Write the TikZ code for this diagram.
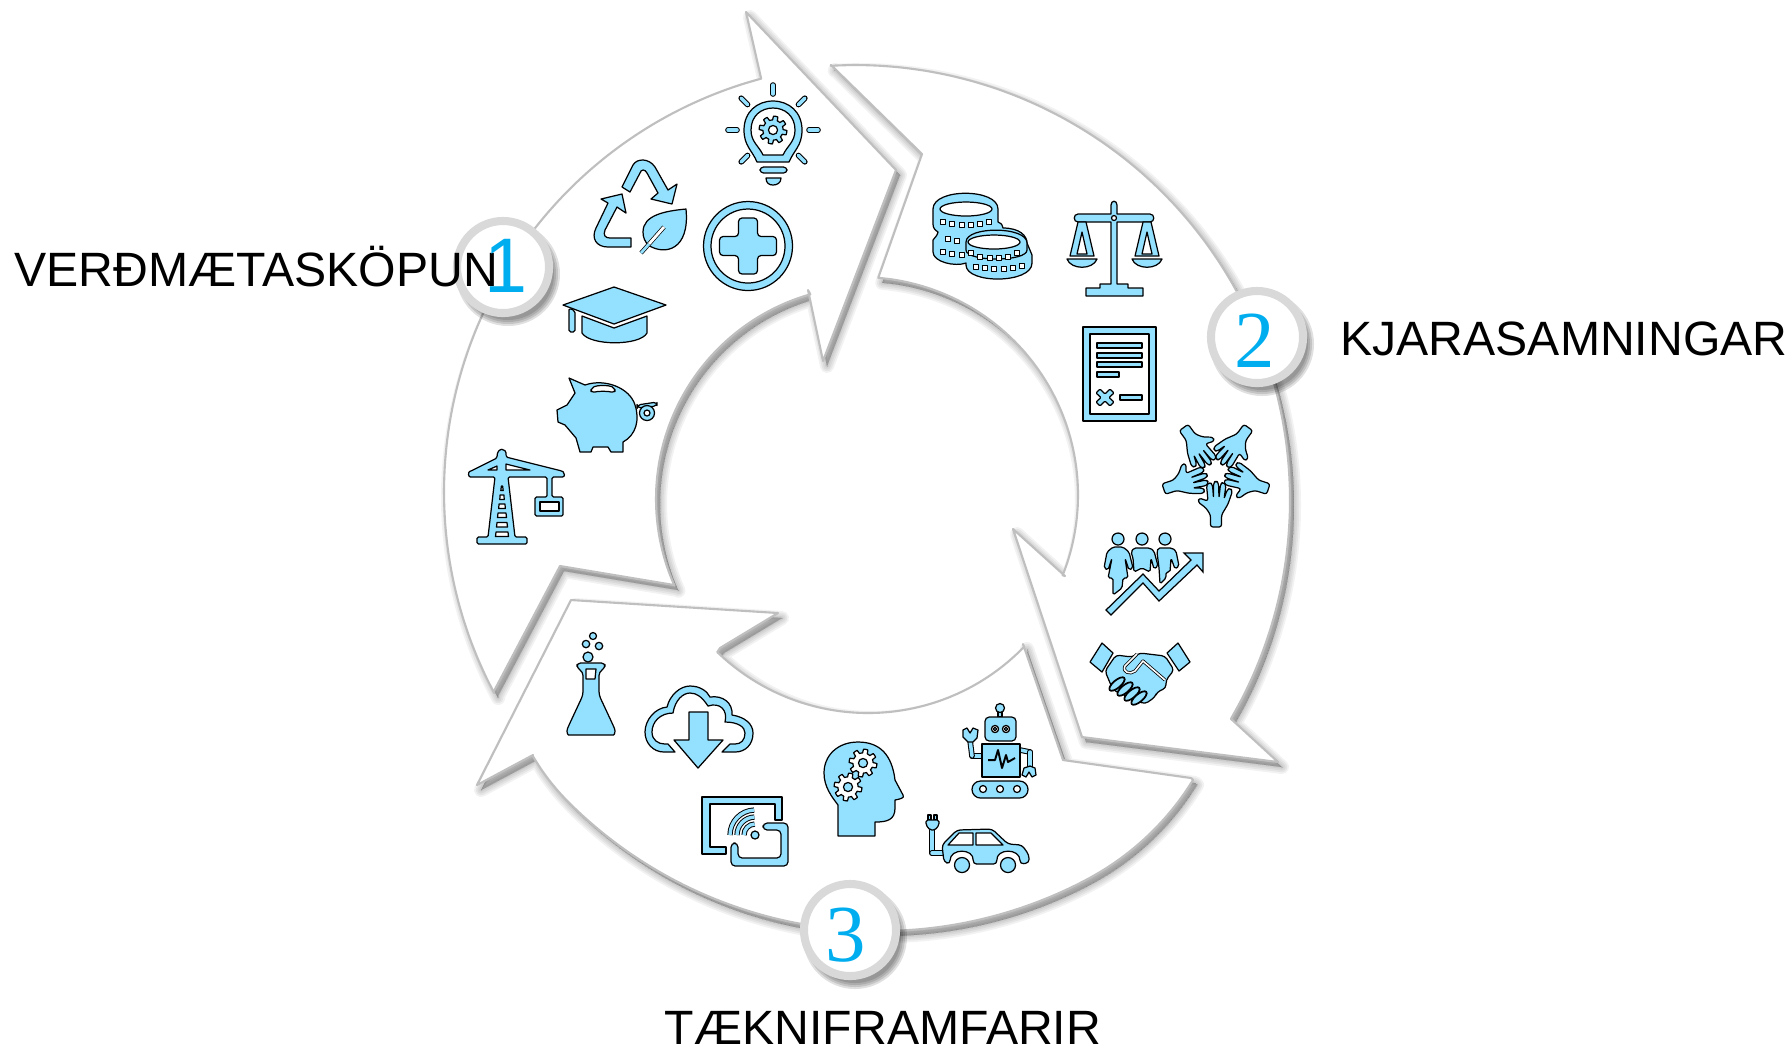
\documentclass[tikz,border=0pt]{standalone}
\usepackage{fontspec}
\setmainfont{Liberation Sans}
\newfontfamily\digitfont{Liberation Serif}
\definecolor{iconblue}{HTML}{93E1FF}
\definecolor{ringgray}{HTML}{D9D9D9}
\definecolor{edgegray}{HTML}{BFBFBF}
\definecolor{digitblue}{HTML}{00AEEF}
\tikzstyle{icon} = [fill=iconblue, draw=black, line width=.35pt, line join=round]
\tikzstyle{hole} = [fill=white, draw=black, line width=.35pt, line join=round]
\tikzstyle{blade} = [fill=white, draw=edgegray, line width=.6pt, line join=round]
\tikzstyle{stickout} = [draw=black, line width=1.6pt, line cap=round]
\tikzstyle{stickin} = [draw=iconblue, line width=1pt, line cap=round]
\tikzstyle{badge} = [circle, minimum size=.92cm, inner sep=0pt, draw=ringgray, line width=2.3pt, fill=white]
\tikzstyle{title} = [inner sep=0pt, font=\fontsize{13.7pt}{16pt}\selectfont, text=black]
\tikzstyle{digit} = [inner sep=0pt, font=\fontsize{22pt}{24pt}\selectfont, text=digitblue]
\tikzstyle{serifdigit} = [inner sep=0pt, font=\digitfont\fontsize{23pt}{24pt}\selectfont, text=digitblue]

\newcommand{\bladeone}{(761,78) -- plot[domain=255:152, samples=40, smooth] ({872+428*cos(\x)}, {492+428*sin(\x)}) -- (494,691) -- (560,566) -- (674,585) -- plot[domain=156:254, samples=30, smooth] ({869+213*cos(\x)}, {499+213*sin(\x)}) -- (808,290) -- (823,361) -- (896,170) -- (746,12) -- cycle}
\newcommand{\bladetwo}{(831,65) -- plot[domain=-93.2:30.2, samples=40, smooth] ({855+435*cos(\x)}, {500+435*sin(\x)}) -- (1278,762) -- (1082,737) -- (1013,529) -- (1065,576) -- plot[domain=21.6:-85.2, samples=30, smooth] ({860+218*cos(\x)}, {495+218*sin(\x)}) -- (922,154) -- cycle}
\newcommand{\bladethree}{(1191,778) -- plot[domain=42.8:142.6, samples=50, smooth] ({880+(441-14*max(0,(62-\x)/19)^2-4*max(0,(\x-135)/8)^2)*cos(\x)}, {490+(441-14*max(0,(62-\x)/19)^2-4*max(0,(\x-135)/8)^2)*sin(\x)}) -- (533,755) -- (477,785) -- (571,600) -- (778,613) -- (720,648) -- plot[domain=134:44, samples=30, smooth] ({868+217*cos(\x)}, {496+217*sin(\x)}) -- (1023,644) -- (1063,760) -- cycle}
\newcommand{\softshade}[1]{
  \foreach \w in {0,2,4,6,8} {
    \fill[black, opacity=.05, shift={(4,5)}] #1;
    \draw[black, opacity=.05, line join=round, line width=\w pt*.5, shift={(4,5)}] #1;
  }
}
\newcommand{\stick}[2]{
  \draw[stickout] #1 -- #2;
  \draw[stickin] #1 -- #2;
}
\newcommand{\gearicon}[5]{
  \draw[#4] plot[domain=0:360, samples=145, smooth] ({#1+#3*(1+.16*max(-1,min(1,3*sin(8*\x)))*1)*cos(\x)}, {#2+#3*(1+.16*max(-1,min(1,3*sin(8*\x))))*sin(\x)}) -- cycle;
  \draw[#5] (#1,#2) circle[radius=#3*.38];
}

\begin{document}
\begin{tikzpicture}[x=0.01cm, y=-0.01cm]

  \useasboundingbox (0,0) rectangle (1792,1050);
  \fill[white] (0,0) rectangle (1792,1050);

  % Blades
  \softshade{\bladethree}
  \draw[blade] \bladethree;
  \softshade{\bladetwo}
  \draw[blade] \bladetwo;
  \softshade{\bladeone}
  \draw[blade] \bladeone;

  % Bulb
  \draw[icon, even odd rule] (757,162) .. controls (752,150) and (744,146) .. (744,130) .. controls (744,112) and (757,101) .. (773,101) .. controls (789,101) and (802,112) .. (802,130) .. controls (802,146) and (794,150) .. (789,162) -- cycle
    (763,155) .. controls (759,146) and (751,142) .. (751,130) .. controls (751,116) and (761,108) .. (773,108) .. controls (785,108) and (795,116) .. (795,130) .. controls (795,142) and (787,146) .. (783,155) -- cycle;
  \gearicon{773}{130}{12}{icon}{hole}
  \begin{scope}[shift={(773,130)}]
    \foreach \a in {0,45,135,180,225,270,315} {
      \stick{(\a:36)}{(\a:45)}
    }
  \end{scope}
  \draw[icon, rounded corners=1pt] (760,167) rectangle (787,173);
  \draw[icon] (766,178) -- (781,178) .. controls (781,183) and (777,185) .. (773,185) .. controls (769,185) and (766,183) .. (766,178) -- cycle;

  % Recycle
  \draw[icon] (622,187) -- (633,165) .. controls (637,158) and (649,158) .. (655,167) -- (668,190) -- (677,184) -- (672,204) -- (651,199) -- (658,193) -- (647,173) .. controls (645,169) and (641,169) .. (640,173) -- (630,192) -- cycle;
  \draw[icon] (631,247) -- (608,247) .. controls (596,247) and (591,238) .. (596,228) -- (608,203) -- (601,199) -- (622,194) -- (626,213) -- (617,207) -- (605,230) .. controls (603,235) and (605,238) .. (610,238) -- (631,238) -- cycle;
  \draw[icon] (686,209) .. controls (665,211) and (643,215) .. (643,232) .. controls (643,238) and (645,241) .. (648,245) .. controls (665,256) and (690,250) .. (686,209) -- cycle;
  \draw[line width=1.2pt, black] (664,227) -- (641,253);
  \draw[line width=.8pt, white] (664,227) -- (649,244);
  \draw[line width=.8pt, iconblue] (649,244) -- (641,253);

  % Cross
  \draw[icon, even odd rule] (748,246) circle[radius=44.5] (748,246) circle[radius=37];
  \draw[icon, rounded corners=1pt] (738.5,218) -- (757.5,218) -- (757.5,236.5) -- (776.5,236.5) -- (776.5,255.5) -- (757.5,255.5) -- (757.5,274) -- (738.5,274) -- (738.5,255.5) -- (719.5,255.5) -- (719.5,236.5) -- (738.5,236.5) -- cycle;

  % Cap
  \draw[icon] (614,287) -- (666,305) -- (614,324) -- (563,305) -- cycle;
  \draw[icon] (582,316) -- (614,328) -- (647,316) -- (647,333) .. controls (640,346) and (590,346) .. (582,333) -- cycle;
  \draw[icon, rounded corners=.5pt] (569,308) -- (569,332) -- (575,332) -- (575,311) -- cycle;

  % Piggy
  \draw[icon, rounded corners=1pt] (637,405) -- (657,402) -- (657,406) -- (637,408) -- cycle;
  \draw[icon, even odd rule] (647,413) circle[radius=7.5] (647,413) circle[radius=3];
  \draw[icon] (569,378) -- (585,385) .. controls (605,378) and (630,388) .. (635,405) .. controls (640,420) and (636,435) .. (623,442) -- (623,452) -- (611,452) -- (608,447) -- (593,447) -- (591,452) -- (580,452) -- (576,438) -- (565,425) -- (558,422) -- (557,410) -- (567,405) -- (575,393) -- cycle;
  \draw[hole, rounded corners=1pt] (591,388) .. controls (598,385) and (608,385) .. (615,388) -- (615,393) .. controls (608,391) and (598,391) .. (591,393) -- cycle;

  % Crane
  \draw[icon, rounded corners=.4pt] (497,458) .. controls (497,447) and (507,447) .. (506,457) -- (562,471) .. controls (565,473) and (565,477) .. (561,477) -- (552,477) -- (552,497) -- (563,497) -- (563,516) -- (535,516) -- (535,497) -- (547,497) -- (547,477) -- (508,477) -- (515,537) -- (527,537) -- (527,544) -- (477,544) -- (477,537) -- (488,537) -- (495,477) -- (472,477) .. controls (468,477) and (468,472) .. (471,471) -- cycle;
  \draw[hole] (540,502) rectangle (559,511);
  \draw[hole] (488,470) -- (497,466) -- (497,470) -- cycle;
  \draw[hole] (506,464) -- (530,470) -- (506,470) -- cycle;
  \foreach \y/\a/\b in {532/6/6.5, 522.5/5/5.5, 513/4/4.5, 504/3/3.3, 495/2/2.2, 486/.6/1.2} {
    \draw[hole] ({502-\a},\y) -- ({502+\a},\y) -- ({502+\b},\y+4.5) -- ({502-\b},\y+4.5) -- cycle;
  }

  % Coins
  \draw[icon] (933,209) .. controls (933,188) and (998,188) .. (998,209) -- (998,222) .. controls (1003,224) and (1002,226) .. (1003,228) .. controls (1020,228) and (1027,236) .. (1027,243) -- (1032,255) -- (1032,263) .. controls (1032,284) and (966,284) .. (966,265) -- (966,263) .. controls (955,267) and (933,262) .. (933,252) -- (933,240) .. controls (936,236) and (937,236) .. (938,232) .. controls (935,230) and (933,228) .. (933,224) -- cycle;
  \draw[hole] (966,209) ellipse[x radius=26, y radius=7];
  \draw[icon] (966,242) .. controls (966,226) and (1027,226) .. (1027,243) -- (1027,250) .. controls (1027,262) and (966,262) .. (966,250) -- cycle;
  \draw[hole] (994,242) ellipse[x radius=26, y radius=7];
  \foreach \x/\y in {943/222, 952/224, 962/225, 971/225, 980/224, 989/222, 948/239, 957/241, 943/252, 952/254, 962/255, 971/253, 980/257, 990/258, 999/258, 1008/257, 1017/253, 976/267, 985/268, 994/269, 1004/269, 1013/268, 1022/266} {
    \draw[hole] ({\x-2.3},{\y-2.3}) rectangle ({\x+2.3},{\y+2.3});
  }

  % Scales
  \draw[icon] (1086,296) -- (1086,288) -- (1100,288) -- (1100,284) -- (1111,284) -- (1111,222) -- (1078,222) .. controls (1073,222) and (1073,214) .. (1078,214) -- (1111,214) -- (1111,205) .. controls (1111,200) and (1117,200) .. (1117,205) -- (1117,214) -- (1150,214) .. controls (1155,214) and (1155,222) .. (1150,222) -- (1117,222) -- (1117,284) -- (1128,284) -- (1128,288) -- (1143,288) -- (1143,296) -- cycle;
  \draw[hole] (1114,218) circle[radius=2.5];
  \foreach \c in {1082,1147} {
    \draw[icon, even odd rule] ({\c-4},222) -- ({\c+4},222) -- ({\c+12},256) -- ({\c-12},256) -- cycle ({\c},232) -- ({\c+5},254) -- ({\c-5},254) -- cycle;
    \draw[icon] ({\c-15},259) -- ({\c+15},259) .. controls ({\c+11},270) and ({\c-11},270) .. ({\c-15},259) -- cycle;
  }

  % Document
  \draw[icon, even odd rule] (1083,327) rectangle (1156,421) (1090,334) rectangle (1149,414);
  \foreach \y in {343,353,362} {
    \draw[icon] (1097,\y) rectangle (1142,\y+5);
  }
  \draw[icon] (1097,372) rectangle (1119,377);
  \draw[icon] (1120,395) rectangle (1142,400);
  \draw[icon, rounded corners=.3pt] (1100,389) -- (1105,394) -- (1110,389) -- (1114,393) -- (1109,397.5) -- (1114,402) -- (1110,406) -- (1105,401) -- (1100,406) -- (1096,402) -- (1101,397.5) -- (1096,393) -- cycle;

  % Hands
  \foreach \a in {0,72,...,288} {
    \begin{scope}[shift={(1216,472)}, rotate=\a]
      \draw[icon, rounded corners=.7pt] (-5.5,55) -- (-5.5,43) -- (-10,36) -- (-18,30) -- (-17,26) -- (-8,29) -- (-9.5,13) -- (-6,10) -- (-3.5,13) -- (-2.5,26) -- (-2.5,11) -- (0,8.5) -- (2.5,11) -- (3,26) -- (4.5,12) -- (7,10) -- (10,13) -- (8,27) -- (11,18) -- (14,16) -- (16.5,19) -- (12,32) -- (5.5,43) -- (5.5,55) -- cycle;
    \end{scope}
  }

  % People and trend
  \foreach \x in {1118,1142,1165} {
    \draw[icon] (\x,539) circle[radius=6];
  }
  \draw[icon, rounded corners=.5pt] (1113,547) -- (1123,547) -- (1129,552) -- (1133,568) -- (1129,570) -- (1125,558) -- (1128,578) -- (1123,578) -- (1122,588) -- (1113,595) -- (1113,578) -- (1108,578) -- (1112,558) -- (1108,570) -- (1104,568) -- (1107,552) -- cycle;
  \draw[icon, rounded corners=.5pt] (1134,548) -- (1150,548) -- (1154,551) -- (1158,566) -- (1154,569) -- (1151,558) -- (1150,572) -- (1142,568) -- (1134,572) -- (1133,558) -- (1131,552) -- cycle;
  \draw[icon, rounded corners=.5pt] (1158,548) -- (1172,548) -- (1176,551) -- (1179,566) -- (1175,569) -- (1171,558) -- (1170,572) -- (1166,572) -- (1166,578) -- (1160,584) -- (1159,568) -- (1157,552) -- cycle;
  \draw[white, line width=1.2pt] (1106,610) -- (1143,574) -- (1159,591) -- (1191,560);
  \draw[icon, line join=miter] (1106,610) -- (1143,574) -- (1159,591) -- (1191,560) -- (1184,553) -- (1203,553) -- (1203,572) -- (1197,565) -- (1159,601) -- (1143,583) -- (1111,615) -- cycle;

  % Handshake
  \draw[icon] (1102,643) -- (1113,653) -- (1102,672) -- (1090,662) -- cycle;
  \draw[icon] (1178,643) -- (1190,662) -- (1179,671) -- (1167,653) -- cycle;
  \draw[icon, rounded corners=1pt] (1116,655) -- (1132,657) -- (1140,653) -- (1165,656) -- (1174,670) -- (1166,680) -- (1166,688) -- (1157,692) -- (1155,697) -- (1145,704) -- (1135,700) -- (1113,690) -- (1105,671) -- cycle;
  \draw[black, line width=.9pt, line join=round] (1165,680) -- (1143,661) -- (1135,671) .. controls (1130,675) and (1122,672) .. (1125,666) -- (1137,654);
  \draw[white, line width=.45pt, line join=round] (1165,680) -- (1143,661) -- (1135,671) .. controls (1130,675) and (1122,672) .. (1125,666) -- (1137,654);
  \foreach \x/\y in {1117/684, 1125/689, 1132/694, 1139/698} {
    \draw[icon, rotate around={40:(\x,\y)}, line width=.5pt] (\x,\y) ellipse[x radius=9.5, y radius=3.8];
  }

  % Flask
  \draw[icon, rounded corners=1pt] (577,663) -- (605,663) -- (605,668) -- (599,672) -- (599,695) -- (613,725) .. controls (616,732) and (614,735) .. (610,735) -- (572,735) .. controls (568,735) and (566,732) .. (569,725) -- (583,695) -- (583,672) -- (577,668) -- cycle;
  \draw[hole] (586,669) -- (596,669) -- (595,679) -- (586,679) -- cycle;
  \foreach \x/\y/\r in {588/657/5, 586/644/3.7, 599/646/3.7, 593/636/3.5} {
    \draw[icon] (\x,\y) circle[radius=\r];
  }

  % Cloud
  \draw[icon] (675,752) -- (664,752) .. controls (653,752) and (645,743) .. (645,732) .. controls (645,720) and (655,708) .. (667,707) .. controls (670,695) and (680,686) .. (690,686) .. controls (700,686) and (707,691) .. (710,697) .. controls (723,695) and (733,703) .. (732,715) .. controls (745,717) and (753,724) .. (753,733) .. controls (753,745) and (745,752) .. (735,752) -- (722,752) -- (730,744) -- (735,744) .. controls (741,744) and (745,740) .. (745,733) .. controls (745,727) and (738,722) .. (725,722) .. controls (728,710) and (720,702) .. (708,706) .. controls (702,697) and (697,693) .. (690,693) .. controls (683,693) and (675,700) .. (673,713) .. controls (660,713) and (652,722) .. (652,732) .. controls (652,740) and (658,744) .. (665,744) -- (668,744) -- cycle;
  \draw[icon] (689,712) -- (708,712) -- (708,740) -- (723,740) -- (698,768) -- (674,740) -- (689,740) -- cycle;

  % Screen
  \draw[icon] (702,797) -- (782,797) -- (782,820) -- (775,820) -- (775,804) -- (710,804) -- (710,847) -- (726,847) -- (726,854) -- (702,854) -- cycle;
  \draw[icon, rounded corners=1.2pt] (763,823) -- (788,823) -- (788,866) -- (731,866) -- (731,843) -- (738,843) -- (738,858) -- (781,858) -- (781,830) -- (763,830) -- cycle;
  \draw[icon] (755,835) circle[radius=4];
  \foreach \r in {11,18,25} {
    \draw[black, line width=1.5pt] ({755-\r},835) arc[start angle=180, end angle=268, radius=\r];
    \draw[iconblue, line width=.95pt] ({755-\r},835) arc[start angle=180, end angle=268, radius=\r];
  }

  % Head
  \draw[icon] (838,836) -- (875,836) -- (875,822) .. controls (887,822) and (895,820) .. (895,808) -- (895,800) .. controls (900,799) and (905,798) .. (903,795) -- (895,780) .. controls (892,755) and (880,742) .. (858,742) .. controls (838,742) and (824,755) .. (824,773) .. controls (824,787) and (832,797) .. (838,805) -- cycle;
  \gearicon{863}{763}{12}{hole}{icon}
  \gearicon{848}{787}{12}{hole}{icon}

  % Robot
  \stick{(982,756)}{(972,756)}
  \stick{(972,756)}{(970,740)}
  \stick{(1020,750)}{(1030,752)}
  \stick{(1030,752)}{(1030,767)}
  \draw[icon] (963,730) -- (967,728) -- (970,733) -- (973,728) -- (978,730) -- (977,738) -- (973,742) -- (968,742) -- (963,737) -- cycle;
  \draw[icon] (1022,775) -- (1024,768) -- (1030,766) -- (1035,768) -- (1036,775) -- (1032,777) -- (1029,772) -- (1026,777) -- cycle;
  \draw[icon] (998,712) rectangle (1002,717);
  \draw[icon] (1000,708) circle[radius=4.5];
  \draw[icon, rounded corners=1.2pt] (985,717) rectangle (1016,741);
  \foreach \x in {995,1006} {
    \draw[hole] (\x,729) circle[radius=3.6];
    \draw[icon] (\x,729) circle[radius=1.8];
  }
  \draw[icon] (982,744) rectangle (1020,777);
  \draw[black, line width=.55pt, line join=round] (988,760) -- (995,760) -- (998,750) -- (1002,768) -- (1006,755) -- (1008,762) -- (1015,758);
  \draw[icon, rounded corners=2.4pt] (972,781) rectangle (1028,798);
  \foreach \x in {983,1000,1017} {
    \draw[hole] (\x,789) circle[radius=3.5];
  }

  % Car
  \stick{(932,830)}{(932,853)}
  \stick{(932,853)}{(942,853)}
  \draw[icon] (928,815) rectangle (931,820);
  \draw[icon] (934,815) rectangle (937,820);
  \draw[icon, rounded corners=.5pt] (926,820) -- (939,820) -- (939,825) -- (935,830) -- (930,830) -- (926,825) -- cycle;
  \draw[icon, rounded corners=1pt] (942,845) -- (957,830) -- (992,829) -- (1008,844) -- (1022,845) -- (1029,855) -- (1029,863) -- (1020,864) .. controls (1020,848) and (996,848) .. (997,864) -- (973,864) .. controls (974,848) and (950,848) .. (950,864) -- (944,862) -- cycle;
  \draw[hole] (948,845) -- (959,833) -- (973,833) -- (973,845) -- cycle;
  \draw[hole] (976,833) -- (991,833) -- (1003,845) -- (976,845) -- cycle;
  \draw[icon] (962,865) circle[radius=7.5];
  \draw[icon] (1008,865) circle[radius=7.5];

  % Badges
  \foreach \c in {(503,267),(1257,337),(850,930)} {
    \foreach \w in {46,48,50,52} {
      \fill[black, opacity=.12, shift={(5,7)}] \c circle[radius=\w];
    }
  }
  \node[badge] (badgeone) at (503,267) {};
  \node[badge] (badgetwo) at (1257,337) {};
  \node[badge] (badgethree) at (850,930) {};

  \node[title] (verdmaeta) at (256,267) {VERÐMÆTASKÖPUN};
  \node[title] (kjara) at (1564,339) {KJARASAMNINGAR};
  \node[title] (taekni) at (883,1028) {TÆKNIFRAMFARIR};

  \node[digit] (numone) at (506,266) {1};
  \node[serifdigit] (numtwo) at (1255,341) {2};
  \node[serifdigit] (numthree) at (846,935) {3};

\end{tikzpicture}
\end{document}
